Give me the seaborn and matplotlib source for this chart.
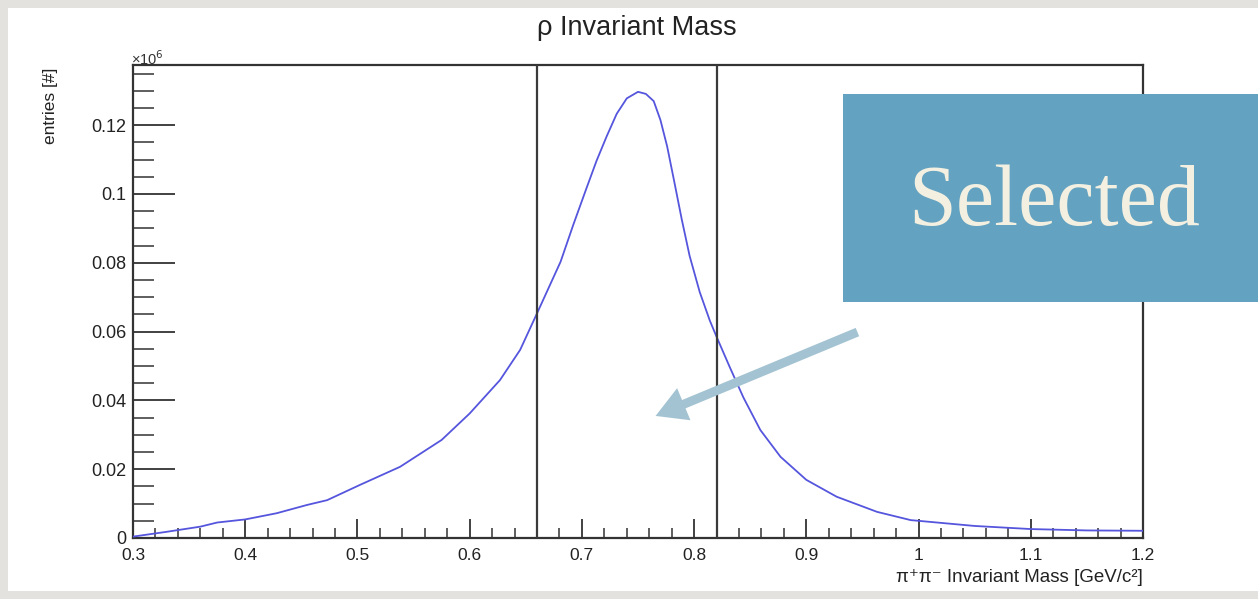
import matplotlib
matplotlib.use("Agg")
import matplotlib.pyplot as plt
import seaborn as sns
from matplotlib.patches import Rectangle, FancyArrowPatch
from matplotlib.ticker import MultipleLocator, FuncFormatter

# ---- data ----
mass = [0.300, 0.330, 0.360, 0.375, 0.400, 0.428, 0.455, 0.473, 0.502, 0.538,
        0.575, 0.600, 0.627, 0.645, 0.660, 0.681, 0.6925, 0.704, 0.713, 0.722,
        0.731, 0.740, 0.750, 0.757, 0.764, 0.770, 0.776, 0.782, 0.789, 0.796,
        0.805, 0.814, 0.820, 0.832, 0.844, 0.859, 0.877, 0.900, 0.927, 0.963,
        0.993, 1.050, 1.100, 1.150, 1.200]
entries = [400, 1800, 3300, 4500, 5400, 7200, 9600, 11000, 15400, 20700,
           28500, 36200, 45900, 54700, 65300, 80300, 91200, 101600, 109600, 116700,
           123300, 127800, 129700, 129100, 127000, 121500, 113800, 104100, 92600, 82000,
           71500, 63200, 58500, 49500, 40800, 31400, 23600, 16900, 12000, 7600,
           5200, 3500, 2600, 2200, 2100]
cuts = [0.66, 0.82]
xticks = [0.3, 0.4, 0.5, 0.6, 0.7, 0.8, 0.9, 1.0, 1.1, 1.2]
yticks = [0, 20000, 40000, 60000, 80000, 100000, 120000]

W, H = 1258, 599
sns.set_theme(style="ticks")
plt.rcParams['font.family'] = ['Liberation Sans', 'DejaVu Sans']

fig = plt.figure(figsize=(W / 100, H / 100), dpi=100)
fig.patch.set_facecolor('#e3e2de')
fig.add_artist(Rectangle((8 / W, 1 - 591 / H), (W - 8) / W, (591 - 8) / H,
                         transform=fig.transFigure, facecolor='white',
                         edgecolor='none', zorder=0))

ax = fig.add_axes([133 / W, 1 - 538 / H, (1143 - 133) / W, (538 - 65) / H])
ax.set_facecolor('white')

sns.lineplot(x=mass, y=entries, ax=ax, color='#5555dd', lw=1.3, zorder=3)
for c in cuts:
    ax.axvline(c, color='#3a3a3a', lw=1.6, zorder=4)

ax.set_xlim(0.3, 1.2)
ax.set_ylim(0, 137500)
ax.set_xticks(xticks)
ax.set_yticks(yticks)
ax.xaxis.set_minor_locator(MultipleLocator(0.02))
ax.yaxis.set_minor_locator(MultipleLocator(5000))
ax.xaxis.set_major_formatter(FuncFormatter(lambda v, p: f"{v:g}"))
ax.yaxis.set_major_formatter(FuncFormatter(lambda v, p: f"{v / 1e6:g}"))
ax.tick_params(axis='x', which='major', direction='in', length=14, width=1.3,
               color='#333333', labelsize=12.5, pad=7, labelcolor='#222222')
ax.tick_params(axis='x', which='minor', direction='in', length=7, width=1.1, color='#333333')
ax.tick_params(axis='y', which='major', direction='in', length=30, width=1.3,
               color='#333333', labelsize=13, pad=5, labelcolor='#222222')
ax.tick_params(axis='y', which='minor', direction='in', length=15, width=1.1, color='#333333')
for s in ax.spines.values():
    s.set_color('#333333')
    s.set_linewidth(1.6)
ax.set_xlabel('')
ax.set_ylabel('')

fig.text(637 / W, 1 - 28 / H, 'ρ Invariant Mass', ha='center', va='center',
         fontsize=19.5, color='#222222')
fig.text(50 / W, 1 - 68 / H, 'entries [#]', rotation=90, ha='center', va='top',
         fontsize=12.5, color='#222222')
fig.text(1143 / W, 1 - 578 / H, 'π⁺π⁻ Invariant Mass [GeV/c²]', ha='right',
         va='center', fontsize=13.5, color='#222222')
fig.text(131 / W, 1 - 59 / H, '×10$^{6}$', ha='left', va='center',
         fontsize=10.5, color='#333333')

# overlay box + arrow
fig.add_artist(Rectangle((843 / W, 1 - 302 / H), (W - 843) / W, (302 - 94) / H,
                         transform=fig.transFigure, facecolor='#63a2c0',
                         edgecolor='none', zorder=10))
fig.text(1054 / W, 1 - 225 / H, 'Selected', ha='center', va='baseline',
         fontsize=62, color='#f3f0e1', family=['Liberation Serif', 'DejaVu Serif'],
         zorder=11)
arrow = FancyArrowPatch((860 / W, 1 - 331 / H), (653 / W, 1 - 417 / H),
                        transform=fig.transFigure,
                        arrowstyle='simple,head_length=22,head_width=25,tail_width=6.5',
                        mutation_scale=1, facecolor='#a3c3d2', edgecolor='none',
                        zorder=12)
fig.add_artist(arrow)

fig.savefig('out.png', dpi=100, facecolor=fig.get_facecolor())
